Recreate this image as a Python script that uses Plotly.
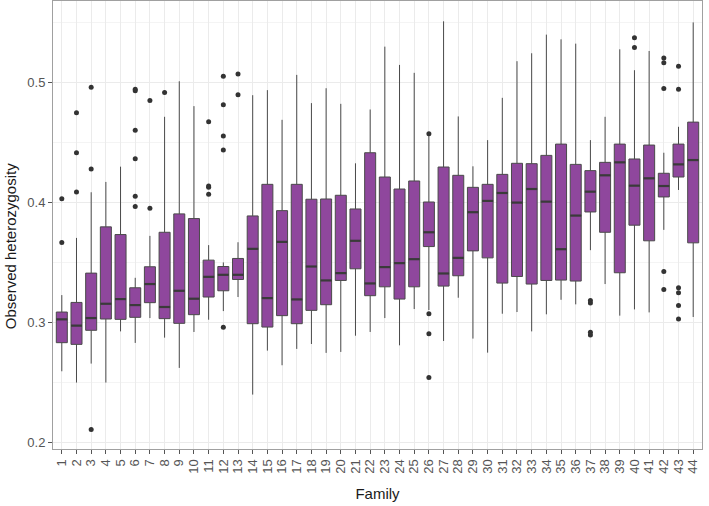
import plotly.graph_objects as go

families = list(range(1, 45))
tick_labels = [str(f) for f in families]

lower_whisker = [0.2595, 0.2501, 0.2659, 0.2501, 0.2927, 0.2831, 0.3038, 0.2875, 0.2623, 0.2922, 0.3024,
                 0.3096, 0.3213, 0.2401, 0.2767, 0.2645, 0.2781, 0.2822, 0.2748, 0.2756, 0.2891, 0.2922,
                 0.3038, 0.2811, 0.3113, 0.3105, 0.2847, 0.3207, 0.2867, 0.2750, 0.3074, 0.3088, 0.2927,
                 0.3069, 0.3190, 0.3152, 0.3603, 0.3321, 0.3058, 0.3110, 0.3085, 0.3772, 0.4104, 0.3047]
q1 = [0.2833, 0.2819, 0.2936, 0.3030, 0.3027, 0.3044, 0.3166, 0.3033, 0.2994, 0.3066, 0.3213,
      0.3265, 0.3359, 0.2991, 0.2963, 0.3058, 0.2991, 0.3102, 0.3149, 0.3351, 0.3448, 0.3224,
      0.3298, 0.3196, 0.3298, 0.3633, 0.3304, 0.3390, 0.3597, 0.3539, 0.3329, 0.3384, 0.3321,
      0.3351, 0.3354, 0.3346, 0.3921, 0.3752, 0.3415, 0.3811, 0.3681, 0.4046, 0.4212, 0.3664]
median = [0.3027, 0.2975, 0.3038, 0.3157, 0.3196, 0.3146, 0.3321, 0.3130, 0.3265, 0.3199, 0.3381,
          0.3398, 0.3398, 0.3614, 0.3204, 0.3672, 0.3193, 0.3467, 0.3351, 0.3412, 0.3681, 0.3326,
          0.3462, 0.3495, 0.3528, 0.3752, 0.3409, 0.3539, 0.3919, 0.4013, 0.4079, 0.3999, 0.4112,
          0.4007, 0.3611, 0.3891, 0.4090, 0.4226, 0.4334, 0.4140, 0.4201, 0.4137, 0.4317, 0.4353]
q3 = [0.3088, 0.3168, 0.3412, 0.3797, 0.3733, 0.3290, 0.3465, 0.3752, 0.3905, 0.3866, 0.3520,
      0.3467, 0.3534, 0.3888, 0.4151, 0.3932, 0.4151, 0.4027, 0.4029, 0.4060, 0.3946, 0.4414,
      0.4212, 0.4112, 0.4179, 0.4004, 0.4295, 0.4226, 0.4126, 0.4151, 0.4234, 0.4326, 0.4323,
      0.4392, 0.4486, 0.4317, 0.4265, 0.4334, 0.4486, 0.4362, 0.4478, 0.4243, 0.4486, 0.4669]
upper_whisker = [0.3229, 0.3705, 0.4085, 0.4171, 0.4298, 0.3373, 0.3722, 0.4713, 0.5009, 0.4802, 0.3645,
                 0.3501, 0.3669, 0.4893, 0.4935, 0.4688, 0.5062, 0.4827, 0.4951, 0.4821, 0.4326, 0.4774,
                 0.5297, 0.5145, 0.5079, 0.4553, 0.5508, 0.4716, 0.4301, 0.4519, 0.4871, 0.5176, 0.5242,
                 0.5397, 0.5358, 0.5322, 0.4519, 0.4713, 0.5275, 0.5101, 0.5261, 0.4414, 0.4630, 0.5499]

outlier_family = [1, 1, 2, 2, 2, 3, 3, 3, 6, 6, 6, 6, 6, 6, 7, 7, 8, 11, 11, 11, 11,
                  12, 12, 12, 12, 12, 13, 13, 26, 26, 26, 26, 37, 37, 37, 37,
                  40, 40, 42, 42, 42, 42, 42, 43, 43, 43, 43, 43, 43]
outlier_value = [0.3667, 0.4032, 0.4087, 0.4414, 0.4746, 0.2111, 0.4279, 0.4960,
                 0.3966, 0.4051, 0.4364, 0.4602, 0.4929, 0.4943, 0.3952, 0.4849, 0.4915,
                 0.4068, 0.4126, 0.4137, 0.4672,
                 0.2961, 0.4436, 0.4553, 0.4813, 0.5051, 0.4896, 0.5070,
                 0.4572, 0.3074, 0.2908, 0.2543, 0.3185, 0.3163, 0.2919, 0.2897,
                 0.5289, 0.5372, 0.4948, 0.5162, 0.5203, 0.3426, 0.3276,
                 0.4943, 0.5134, 0.3290, 0.3249, 0.3143, 0.3030]

FILL = "#8F479D"
EDGE = "#4a4a4a"
BOX_W = 0.75

fig = go.Figure()
fig.add_trace(go.Box(
    x=families, q1=q1, median=median, q3=q3,
    lowerfence=lower_whisker, upperfence=upper_whisker,
    width=BOX_W, fillcolor=FILL, boxpoints=False,
    line=dict(color=EDGE, width=1), whiskerwidth=0,
    hoverinfo="skip", showlegend=False,
))

# thicker median lines (ggplot style)
mx, my = [], []
for f, m in zip(families, median):
    mx += [f - BOX_W / 2, f + BOX_W / 2, None]
    my += [m, m, None]
fig.add_trace(go.Scatter(x=mx, y=my, mode="lines",
                         line=dict(color="#3a3a3a", width=2.2),
                         hoverinfo="skip", showlegend=False))

fig.add_trace(go.Scatter(x=outlier_family, y=outlier_value, mode="markers",
                         marker=dict(color="#333333", size=5),
                         hoverinfo="skip", showlegend=False))

FONT = "Liberation Sans, Arial, sans-serif"
fig.update_layout(
    width=709, height=506,
    margin=dict(l=53, r=7, t=1, b=57, autoexpand=False),
    paper_bgcolor="white", plot_bgcolor="white",
    font=dict(family=FONT, size=13, color="#4d4d4d"),
    xaxis=dict(
        range=[0.4, 44.6], tickmode="array", tickvals=families, ticktext=tick_labels,
        tickangle=-90, ticks="outside", ticklen=4, tickcolor="#555555",
        tickfont=dict(size=13, color="#555555"),
        showgrid=True, gridcolor="#EBEBEB", gridwidth=1, zeroline=False,
        showline=True, mirror=True, linecolor="#a0a0a0", linewidth=1,
        title=dict(text="Family", font=dict(size=15, color="#1a1a1a"), standoff=15),
    ),
    yaxis=dict(
        range=[0.1948, 0.5677], tickmode="array", tickvals=[0.2, 0.3, 0.4, 0.5],
        ticktext=["0.2", "0.3", "0.4", "0.5"],
        ticks="outside", ticklen=4, tickcolor="#555555",
        tickfont=dict(size=13, color="#555555"),
        showgrid=True, gridcolor="#EBEBEB", gridwidth=1, zeroline=False,
        minor=dict(tickvals=[0.25, 0.35, 0.45, 0.55], showgrid=True,
                   gridcolor="#F4F4F4", gridwidth=0.6, ticks=""),
        showline=True, mirror=True, linecolor="#a0a0a0", linewidth=1,
    ),
    annotations=[dict(
        text="Observed heterozygosity", textangle=-90,
        xref="paper", yref="paper", x=-0.066, y=0.453,
        xanchor="center", yanchor="middle", showarrow=False,
        font=dict(size=15, color="#1a1a1a"),
    )],
)

fig.write_html("out.html", config={"displayModeBar": False},
               post_script="document.body.style.margin='0';")
